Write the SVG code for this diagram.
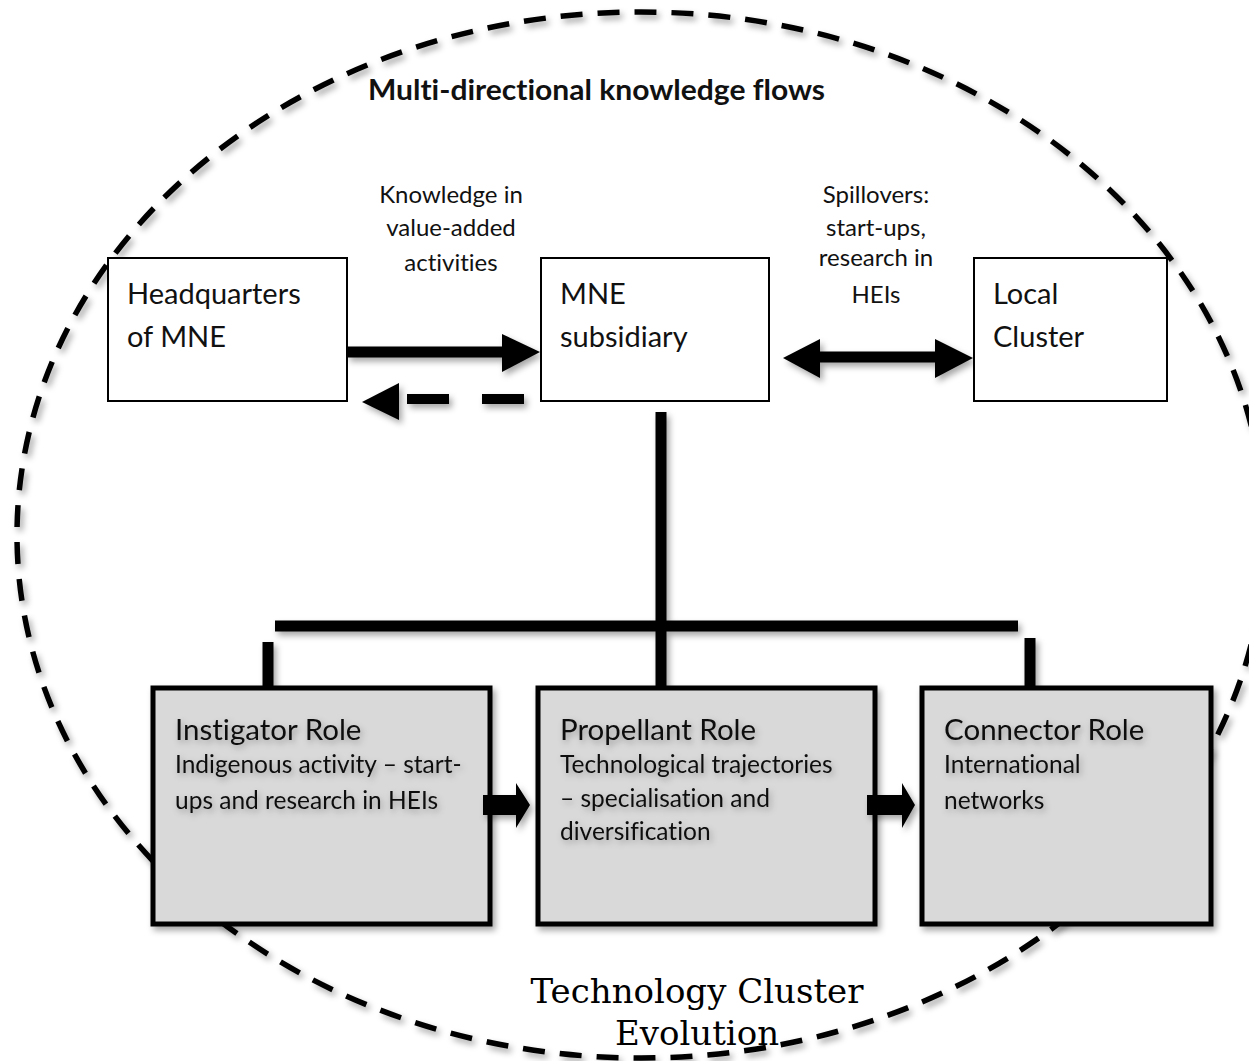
<svg xmlns="http://www.w3.org/2000/svg" width="1249" height="1061" viewBox="0 0 1249 1061">
<defs>
<filter id="sh" x="-20%" y="-20%" width="140%" height="140%">
<feDropShadow dx="3" dy="4" stdDeviation="3" flood-color="#000" flood-opacity="0.35"/>
</filter>
<filter id="tsh" x="-10%" y="-30%" width="120%" height="160%">
<feDropShadow dx="2" dy="3" stdDeviation="3" flood-color="#000" flood-opacity="0.3"/>
</filter>
</defs>
<style>
.ell{fill:none;stroke:#000;stroke-width:5.5;stroke-dasharray:22 15}
.top{fill:#fff;stroke:#000;stroke-width:2}
.role{fill:#d9d9d9;stroke:#000;stroke-width:5}
.t{font-family:Lato,"Liberation Sans",sans-serif;fill:#111;font-variant-ligatures:none}
.n{font-size:29px}
.lbl{font-size:24px;text-anchor:middle}
.rt{font-size:29.5px}
.rd{font-size:24.5px}
.line{stroke:#000;stroke-width:11;fill:none}
.head{fill:#000}
.title{font-family:Lato,"Liberation Sans",sans-serif;font-weight:bold;font-size:29px;fill:#111;font-variant-ligatures:none}
.ser{font-family:"DejaVu Serif","Liberation Serif",serif;font-size:34px;text-anchor:middle;fill:#000}
</style>
<rect width="1249" height="1061" fill="#fff"/>
<ellipse class="ell" cx="641" cy="535" rx="624" ry="523" filter="url(#sh)"/>
<text class="title" x="368" y="100" textLength="457" lengthAdjust="spacingAndGlyphs">Multi-directional knowledge flows</text>

<g id="labels">
<text class="t lbl" x="451" y="203">Knowledge in</text>
<text class="t lbl" x="451" y="236">value-added</text>
<text class="t lbl" x="451" y="271">activities</text>
<text class="t lbl" x="876" y="203">Spillovers:</text>
<text class="t lbl" x="876" y="236">start-ups,</text>
<text class="t lbl" x="876" y="266">research in</text>
<text class="t lbl" x="876" y="303">HEIs</text>
</g>

<g id="connectors" filter="url(#sh)">
<line class="line" x1="347" y1="352" x2="504" y2="352"/>
<polygon class="head" points="502,334 540,352 502,372"/>
<polygon class="head" points="362,402 399,383 399,420"/>
<rect x="407" y="394" width="42" height="10" fill="#000"/>
<rect x="482" y="394" width="42" height="10" fill="#000"/>
<line class="line" x1="815" y1="357" x2="940" y2="357"/>
<polygon class="head" points="783,358 820,339 820,378"/>
<polygon class="head" points="935,339 973,358 935,378"/>
<line class="line" x1="661" y1="412" x2="661" y2="688"/>
<line class="line" x1="275" y1="626" x2="1018" y2="626"/>
<line class="line" x1="268" y1="642" x2="268" y2="688"/>
<line class="line" x1="1030" y1="638" x2="1030" y2="688"/>
</g>

<g id="hq">
<rect class="top" x="108" y="258" width="239" height="143"/>
<text class="t n" x="127" y="304">Headquarters</text>
<text class="t n" x="127" y="347">of MNE</text>
</g>
<g id="mne">
<rect class="top" x="541" y="258" width="228" height="143"/>
<text class="t n" x="560" y="304">MNE</text>
<text class="t n" x="560" y="347">subsidiary</text>
</g>
<g id="local">
<rect class="top" x="974" y="258" width="193" height="143"/>
<text class="t n" x="993" y="304">Local</text>
<text class="t n" x="993" y="347">Cluster</text>
</g>

<g id="instigator">
<rect class="role" x="153" y="688" width="337" height="236" filter="url(#sh)"/>
<g filter="url(#tsh)">
<text class="t rt" x="175" y="740">Instigator Role</text>
<text class="t rd" x="175" y="773">Indigenous activity – start-</text>
<text class="t rd" x="175" y="809">ups and research in HEIs</text>
</g>
</g>
<g id="propellant">
<rect class="role" x="538" y="688" width="337" height="236" filter="url(#sh)"/>
<g filter="url(#tsh)">
<text class="t rt" x="560" y="740">Propellant Role</text>
<text class="t rd" x="560" y="773">Technological trajectories</text>
<text class="t rd" x="560" y="807">– specialisation and</text>
<text class="t rd" x="560" y="840">diversification</text>
</g>
</g>
<g id="connector">
<rect class="role" x="922" y="688" width="289" height="236" filter="url(#sh)"/>
<g filter="url(#tsh)">
<text class="t rt" x="944" y="740">Connector Role</text>
<text class="t rd" x="944" y="773">International</text>
<text class="t rd" x="944" y="809">networks</text>
</g>
</g>

<g id="flow-arrows" filter="url(#sh)">
<polygon class="head" points="483,795 516,795 516,783 530,805 516,828 516,815 483,815"/>
<polygon class="head" points="867,795 902,795 902,783 915,805 902,828 902,815 867,815"/>
</g>

<text class="ser" x="697" y="1003">Technology Cluster</text>
<text class="ser" x="697" y="1045">Evolution</text>
</svg>
